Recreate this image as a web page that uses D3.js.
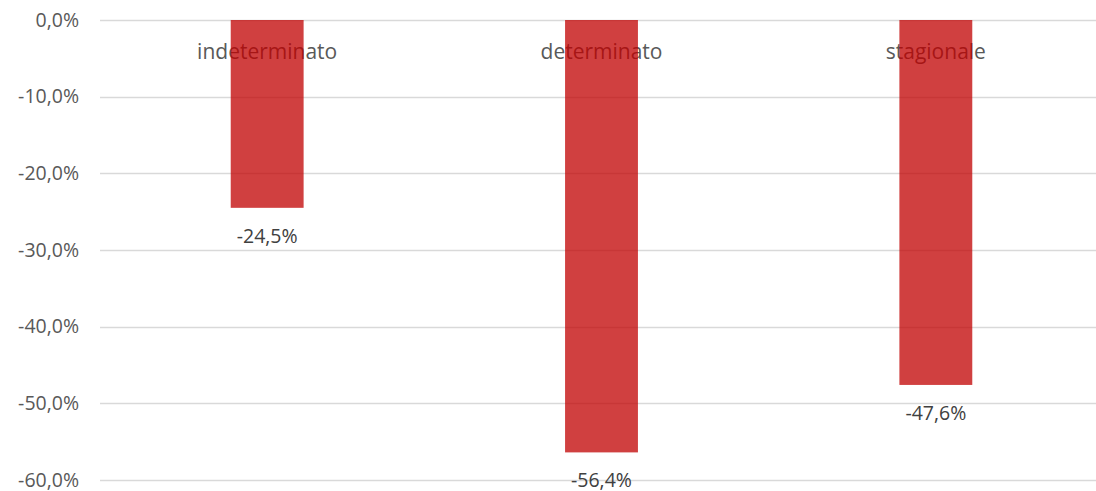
<!DOCTYPE html>
<html>
<head>
<meta charset="utf-8">
<script src="https://cdn.jsdelivr.net/npm/d3@7"></script>
<style>
  html, body { margin: 0; padding: 0; background: #fff; }
  svg { display: block; }
</style>
</head>
<body>
<svg id="chart" width="1096" height="491"></svg>
<script>
// Variazione percentuale per tipologia di contratto
const categories = ["indeterminato", "determinato", "stagionale"];
const values = [-24.5, -56.4, -47.6];
const tickValues = [0, -10, -20, -30, -40, -50, -60];

const svg = d3.select("#chart");
const W = 1096, H = 491;
const margin = { top: 20, left: 100, right: -7, bottom: 11 };

// Italian style: comma decimal, ASCII hyphen as minus sign
const fmt = v => (v < 0 ? "-" : "") + Math.abs(v).toFixed(1).replace(".", ",") + "%";

const x = d3.scaleBand()
  .domain(categories)
  .range([margin.left, W - margin.right])
  .paddingInner(0.782)
  .paddingOuter(0.391);

const y = d3.scaleLinear()
  .domain([0, -60])
  .range([margin.top, H - margin.bottom]);

// Gridlines
svg.append("g")
  .selectAll("line")
  .data(tickValues)
  .join("line")
  .attr("x1", margin.left)
  .attr("x2", W)
  .attr("y1", d => Math.round(y(d)) + 0.5)
  .attr("y2", d => Math.round(y(d)) + 0.5)
  .attr("stroke", "#d9d9d9")
  .attr("stroke-width", 1.5);

// Y axis labels
const yAxis = d3.axisLeft(y).tickValues(tickValues).tickFormat(fmt).tickSize(0).tickPadding(0);
const gy = svg.append("g")
  .attr("transform", `translate(79,0)`)
  .call(yAxis);
gy.select(".domain").remove();
gy.selectAll("text")
  .attr("fill", "#595959")
  .style("font-family", "'Open Sans', sans-serif")
  .style("font-size", "19.5px");

// Category labels near the zero line
svg.append("g")
  .selectAll("text")
  .data(categories)
  .join("text")
  .attr("x", d => x(d) + x.bandwidth() / 2)
  .attr("y", 59)
  .attr("text-anchor", "middle")
  .attr("fill", "#595959")
  .style("font-family", "'Open Sans', sans-serif")
  .style("font-size", "21px")
  .text(d => d);

// Bars
svg.append("g")
  .selectAll("rect")
  .data(values)
  .join("rect")
  .attr("x", (d, i) => x(categories[i]))
  .attr("width", x.bandwidth())
  .attr("y", d => y(0))
  .attr("height", d => y(d) - y(0))
  .attr("fill", "#c00000")
  .attr("fill-opacity", 0.75);

// Value labels below bars
svg.append("g")
  .selectAll("text")
  .data(values)
  .join("text")
  .attr("x", (d, i) => x(categories[i]) + x.bandwidth() / 2)
  .attr("y", d => y(d) + 35)
  .attr("text-anchor", "middle")
  .attr("fill", "#404040")
  .style("font-family", "'Open Sans', sans-serif")
  .style("font-size", "19.5px")
  .text(d => fmt(d));
</script>
</body>
</html>
